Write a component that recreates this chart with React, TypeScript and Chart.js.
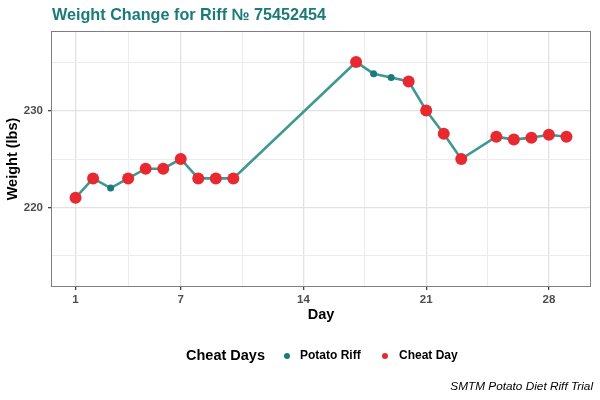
import React, { useEffect, useRef } from "react";
import { Chart, registerables } from "chart.js";

Chart.register(...registerables);

const days = [1, 2, 3, 4, 5, 6, 7, 8, 9, 10, 17, 18, 19, 20, 21, 22, 23, 25, 26, 27, 28, 29];
const weights = [221, 223, 222, 223, 224, 224, 225, 223, 223, 223, 235, 233.8, 233.4, 233, 230, 227.6, 225, 227.3, 227.0, 227.2, 227.5, 227.3];
const cheatFlags = [true, true, false, true, true, true, true, true, true, true, true, false, false, true, true, true, true, true, true, true, true, true];

const xMajorTicks = [1, 7, 14, 21, 28];
const xMinorTicks = [4, 10.5, 17.5, 24.5];
const yMajorTicks = [220, 230];
const yMinorTicks = [215, 225, 235];

const seriesNames = ["Potato Riff", "Cheat Day"];
const legendTitle = "Cheat Days";
const titleText = "Weight Change for Riff № 75452454";
const captionText = "SMTM Potato Diet Riff Trial";

const TEAL = "#1b7b78";
const LINE = "#3f9893";
const RED = "#e8292f";
const FONT = "'Liberation Sans', Arial, sans-serif";

export default function App() {
  const ref = useRef<HTMLCanvasElement | null>(null);

  useEffect(() => {
    document.body.style.margin = "0";
    const ctx = ref.current!.getContext("2d")!;
    const pts = days.map((d, i) => ({ x: d, y: weights[i] }));
    const riff = pts.filter((_, i) => !cheatFlags[i]);
    const cheat = pts.filter((_, i) => cheatFlags[i]);

    const decor = {
      id: "decor",
      afterDraw(chart: any) {
        const c = chart.ctx;
        const a = chart.chartArea;
        c.save();
        c.strokeStyle = "#7f7f7f";
        c.lineWidth = 1;
        c.strokeRect(a.left + 0.5, a.top + 0.5, a.right - a.left - 1, a.bottom - a.top - 1);
        // title
        c.fillStyle = "#1b7b78";
        c.font = `bold 16.2px ${FONT}`;
        c.textBaseline = "alphabetic";
        c.textAlign = "left";
        c.fillText(titleText, 52, 20);
        // legend
        c.fillStyle = "#000";
        c.font = `bold 14.5px ${FONT}`;
        c.textBaseline = "middle";
        c.fillText(legendTitle, 186, 356);
        const items = [
          { color: TEAL, label: seriesNames[0], dx: 287, tx: 300 },
          { color: RED, label: seriesNames[1], dx: 385, tx: 399 },
        ];
        c.font = `bold 12px ${FONT}`;
        for (const it of items) {
          c.beginPath();
          c.arc(it.dx, 356, 3, 0, Math.PI * 2);
          c.fillStyle = it.color;
          c.fill();
          c.fillStyle = "#000";
          c.fillText(it.label, it.tx, 356);
        }
        // caption
        c.font = `italic 11.8px ${FONT}`;
        c.textAlign = "right";
        c.fillStyle = "#000";
        c.fillText(captionText, 593, 387);
        c.restore();
      },
    };

    const isMajorX = (v: number) => xMajorTicks.includes(v);
    const isMajorY = (v: number) => yMajorTicks.includes(v);

    const chart = new Chart(ctx, {
      type: "scatter",
      data: {
        datasets: [
          {
            label: seriesNames[1],
            data: cheat,
            showLine: false,
            pointRadius: 6,
            pointHoverRadius: 6,
            backgroundColor: RED,
            borderColor: RED,
            borderWidth: 0,
            order: 1,
          },
          {
            label: seriesNames[0],
            data: riff,
            showLine: false,
            pointRadius: 3.5,
            pointHoverRadius: 3.5,
            backgroundColor: TEAL,
            borderColor: TEAL,
            borderWidth: 0,
            order: 2,
          },
          {
            label: "line",
            data: pts,
            showLine: true,
            pointRadius: 0,
            borderColor: LINE,
            borderWidth: 2.6,
            order: 3,
          } as any,
        ],
      },
      options: {
        animation: false,
        responsive: false,
        maintainAspectRatio: false,
        layout: { padding: { left: 0, top: 31, right: 9, bottom: 400 - 287 - 37 } },
        plugins: {
          legend: { display: false },
          tooltip: { enabled: false },
          title: { display: false },
        },
        scales: {
          x: {
            type: "linear",
            min: -0.4,
            max: 30.4,
            afterBuildTicks: (s: any) => {
              s.ticks = [...xMajorTicks, ...xMinorTicks].sort((a, b) => a - b).map((v) => ({ value: v }));
            },
            afterFit: (s: any) => {
              s.height = 37;
            },
            ticks: {
              autoSkip: false,
              maxRotation: 0,
              padding: 3,
              color: "#4d4d4d",
              font: { family: FONT, size: 11.5, weight: "bold" },
              callback: (v: any) => (isMajorX(Number(v)) ? String(v) : ""),
            },
            grid: {
              color: (c: any) => (isMajorX(c.tick?.value) ? "#e2e2e2" : "#ececec"),
              lineWidth: (c: any) => (isMajorX(c.tick?.value) ? 1.3 : 1),
              tickColor: (c: any) => (isMajorX(c.tick?.value) ? "#444" : "rgba(0,0,0,0)"),
              tickLength: 3,
              drawTicks: true,
            },
            border: { display: false },
            title: {
              display: true,
              text: "Day",
              color: "#000",
              font: { family: FONT, size: 14.5, weight: "bold" },
              padding: { top: 0, bottom: 0 },
            },
          },
          y: {
            type: "linear",
            min: 211.8,
            max: 238.2,
            afterBuildTicks: (s: any) => {
              s.ticks = [...yMajorTicks, ...yMinorTicks].sort((a, b) => a - b).map((v) => ({ value: v }));
            },
            afterFit: (s: any) => {
              s.width = 51;
            },
            ticks: {
              autoSkip: false,
              padding: 5,
              color: "#4d4d4d",
              font: { family: FONT, size: 11.5, weight: "bold" },
              callback: (v: any) => (isMajorY(Number(v)) ? String(v) : ""),
            },
            grid: {
              color: (c: any) => (isMajorY(c.tick?.value) ? "#e2e2e2" : "#ececec"),
              lineWidth: (c: any) => (isMajorY(c.tick?.value) ? 1.3 : 1),
              tickColor: (c: any) => (isMajorY(c.tick?.value) ? "#444" : "rgba(0,0,0,0)"),
              tickLength: 3,
              drawTicks: true,
            },
            border: { display: false },
            title: {
              display: true,
              text: "Weight (lbs)",
              color: "#000",
              font: { family: FONT, size: 14.5, weight: "bold" },
              padding: { top: 4, bottom: 0 },
            },
          },
        },
      },
      plugins: [decor],
    });
    return () => chart.destroy();
  }, []);

  return (
    <div style={{ position: "absolute", left: 0, top: 0, width: 600, height: 400, background: "#fff" }}>
      <canvas ref={ref} width={600} height={400} style={{ width: 600, height: 400 }} />
    </div>
  );
}
